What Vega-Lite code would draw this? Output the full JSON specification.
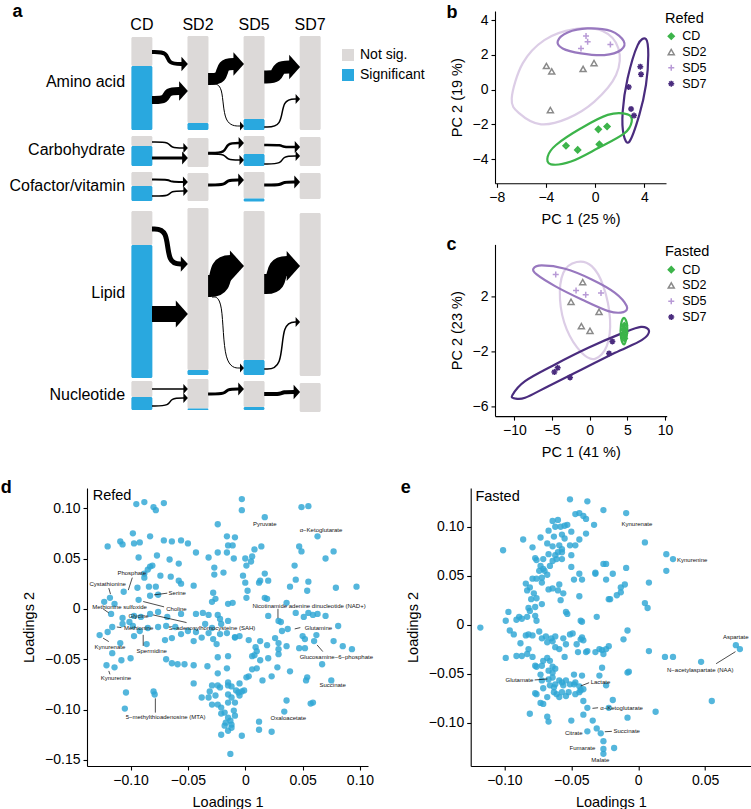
{
"$schema":"https://vega.github.io/schema/vega-lite/v6.json",
"padding":{"top":3,"left":0,"right":0,"bottom":0},
"background":"white",
"spacing":19,
"config":{
 "font":"Liberation Sans",
 "view":{"stroke":null},
 "axis":{"grid":false,"domainColor":"#000","tickColor":"#000","labelColor":"#000","titleColor":"#000","labelFontSize":14,"titleFontSize":14.5,"titleFontWeight":"normal","tickSize":4,"labelPadding":3,"titlePadding":8,"domainWidth":1.1,"tickWidth":1.1,"labelFlush":false,"labelOverlap":false},
 "legend":{"titleFontWeight":"normal","labelColor":"#000","titleColor":"#000"}
},
"resolve":{"scale":{"color":"independent","shape":"independent","size":"independent","strokeWidth":"independent"},"legend":{"color":"independent","shape":"independent","size":"independent","strokeWidth":"independent"}},
"datasets":{
 "abars":[
  {"c":"Amino acid","s":0,"y0":35,"y1":64,"st":"Not sig."},{"c":"Amino acid","s":0,"y0":64,"y1":128,"st":"Significant"},
  {"c":"Amino acid","s":1,"y0":34,"y1":121,"st":"Not sig."},{"c":"Amino acid","s":1,"y0":121,"y1":128,"st":"Significant"},
  {"c":"Amino acid","s":2,"y0":34,"y1":117,"st":"Not sig."},{"c":"Amino acid","s":2,"y0":117,"y1":128,"st":"Significant"},
  {"c":"Amino acid","s":3,"y0":34,"y1":128,"st":"Not sig."},
  {"c":"Carbohydrate","s":0,"y0":134,"y1":144,"st":"Not sig."},{"c":"Carbohydrate","s":0,"y0":144,"y1":164,"st":"Significant"},
  {"c":"Carbohydrate","s":1,"y0":136,"y1":165,"st":"Not sig."},
  {"c":"Carbohydrate","s":2,"y0":134,"y1":152,"st":"Not sig."},{"c":"Carbohydrate","s":2,"y0":152,"y1":164,"st":"Significant"},
  {"c":"Carbohydrate","s":3,"y0":135,"y1":164,"st":"Not sig."},
  {"c":"Cofactor/vitamin","s":0,"y0":170,"y1":184,"st":"Not sig."},{"c":"Cofactor/vitamin","s":0,"y0":184,"y1":199,"st":"Significant"},
  {"c":"Cofactor/vitamin","s":1,"y0":171,"y1":199,"st":"Not sig."},
  {"c":"Cofactor/vitamin","s":2,"y0":170,"y1":196.5,"st":"Not sig."},{"c":"Cofactor/vitamin","s":2,"y0":196.5,"y1":199.5,"st":"Significant"},
  {"c":"Cofactor/vitamin","s":3,"y0":171,"y1":197,"st":"Not sig."},
  {"c":"Lipid","s":0,"y0":209,"y1":243,"st":"Not sig."},{"c":"Lipid","s":0,"y0":243,"y1":376,"st":"Significant"},
  {"c":"Lipid","s":1,"y0":206,"y1":368,"st":"Not sig."},{"c":"Lipid","s":1,"y0":368,"y1":373,"st":"Significant"},
  {"c":"Lipid","s":2,"y0":209,"y1":358,"st":"Not sig."},{"c":"Lipid","s":2,"y0":358,"y1":373,"st":"Significant"},
  {"c":"Lipid","s":3,"y0":211,"y1":374,"st":"Not sig."},
  {"c":"Nucleotide","s":0,"y0":379,"y1":395,"st":"Not sig."},{"c":"Nucleotide","s":0,"y0":395,"y1":408,"st":"Significant"},
  {"c":"Nucleotide","s":1,"y0":377,"y1":406.5,"st":"Not sig."},{"c":"Nucleotide","s":1,"y0":406.5,"y1":408,"st":"Significant"},
  {"c":"Nucleotide","s":2,"y0":379,"y1":405,"st":"Not sig."},{"c":"Nucleotide","s":2,"y0":405,"y1":408,"st":"Significant"},
  {"c":"Nucleotide","s":3,"y0":381,"y1":410,"st":"Not sig."}
 ],
 "aflows":[
  {"f":1,"w":4,"x":[0.18,0.46,0.46,0.744],"y":[50,50,62,62],"k":[0,1,2,3],"hx":0.82,"hy":62},
  {"f":2,"w":8,"x":[0.18,0.44,0.44,0.705],"y":[98,98,89,89],"k":[0,1,2,3],"hx":0.82,"hy":89},
  {"f":3,"w":12,"x":[1.18,1.43,1.43,1.675],"y":[77,77,62,62],"k":[0,1,2,3],"hx":1.82,"hy":62},
  {"f":4,"w":1,"x":[1.25,1.45,1.45,1.786],"y":[82,82,124,124],"k":[0,1,2,3],"hx":1.82,"hy":124},
  {"f":5,"w":13,"x":[2.18,2.42,2.42,2.668],"y":[75,75,65,65],"k":[0,1,2,3],"hx":2.82,"hy":65},
  {"f":6,"w":1.5,"x":[2.18,2.5,2.5,2.778],"y":[125,125,97,97],"k":[0,1,2,3],"hx":2.82,"hy":97},
  {"f":7,"w":1.5,"x":[0.18,0.5,0.5,0.778],"y":[140,140,146,146],"k":[0,1,2,3],"hx":0.82,"hy":146},
  {"f":8,"w":3,"x":[0.18,0.5,0.5,0.756],"y":[156,156,156,156],"k":[0,1,2,3],"hx":0.82,"hy":156},
  {"f":9,"w":2.5,"x":[1.18,1.5,1.5,1.763],"y":[151,151,141,141],"k":[0,1,2,3],"hx":1.82,"hy":141},
  {"f":10,"w":1.5,"x":[1.18,1.5,1.5,1.778],"y":[152,152,158,158],"k":[0,1,2,3],"hx":1.82,"hy":158},
  {"f":11,"w":2.5,"x":[2.18,2.5,2.5,2.763],"y":[143,143,145,145],"k":[0,1,2,3],"hx":2.82,"hy":145},
  {"f":12,"w":1.5,"x":[2.18,2.5,2.5,2.778],"y":[162,162,154,154],"k":[0,1,2,3],"hx":2.82,"hy":154},
  {"f":13,"w":2,"x":[0.18,0.5,0.5,0.77],"y":[177.5,177.5,180,180],"k":[0,1,2,3],"hx":0.82,"hy":180},
  {"f":14,"w":1.5,"x":[0.18,0.5,0.5,0.778],"y":[194,194,189,189],"k":[0,1,2,3],"hx":0.82,"hy":189},
  {"f":15,"w":3,"x":[1.18,1.5,1.5,1.756],"y":[183,183,178,178],"k":[0,1,2,3],"hx":1.82,"hy":178},
  {"f":16,"w":3,"x":[2.18,2.5,2.5,2.756],"y":[183,183,180,180],"k":[0,1,2,3],"hx":2.82,"hy":180},
  {"f":17,"w":5,"x":[0.18,0.46,0.46,0.733],"y":[227,227,262,262],"k":[0,1,2,3],"hx":0.82,"hy":262},
  {"f":18,"w":16,"x":[0.18,0.42,0.42,0.648],"y":[312,312,312,312],"k":[0,1,2,3],"hx":0.82,"hy":312},
  {"f":19,"w":22,"x":[1.18,1.4,1.4,1.615],"y":[284,284,264,264],"k":[0,1,2,3],"hx":1.82,"hy":264},
  {"f":20,"w":1,"x":[1.25,1.45,1.45,1.786],"y":[295,295,366,366],"k":[0,1,2,3],"hx":1.82,"hy":366},
  {"f":21,"w":20,"x":[2.18,2.4,2.4,2.625],"y":[282,282,264,264],"k":[0,1,2,3],"hx":2.82,"hy":264},
  {"f":22,"w":1.5,"x":[2.18,2.5,2.5,2.778],"y":[367,367,320,320],"k":[0,1,2,3],"hx":2.82,"hy":320},
  {"f":23,"w":1.5,"x":[0.18,0.5,0.5,0.778],"y":[387,387,387,387],"k":[0,1,2,3],"hx":0.82,"hy":387},
  {"f":24,"w":1.5,"x":[0.18,0.5,0.5,0.778],"y":[404,404,396,396],"k":[0,1,2,3],"hx":0.82,"hy":396},
  {"f":25,"w":3,"x":[1.18,1.5,1.5,1.756],"y":[392,392,387,387],"k":[0,1,2,3],"hx":1.82,"hy":387},
  {"f":26,"w":4,"x":[2.18,2.5,2.5,2.744],"y":[392,392,390,390],"k":[0,1,2,3],"hx":2.82,"hy":390}
 ],
 "ahead":[{"t":"CD","x":0,"y":23},{"t":"SD2","x":1,"y":23},{"t":"SD5","x":2,"y":23},{"t":"SD7","x":3,"y":23}],
 "acat":[{"t":"Amino acid","x":-0.3,"y":80},{"t":"Carbohydrate","x":-0.3,"y":148},{"t":"Cofactor/vitamin","x":-0.3,"y":184},{"t":"Lipid","x":-0.3,"y":291},{"t":"Nucleotide","x":-0.3,"y":392.5}],
 "bpts":[
  {"g":"CD","x":-2.37,"y":-3.22},{"g":"CD","x":-1.42,"y":-3.46},{"g":"CD","x":0.26,"y":-2.28},{"g":"CD","x":0.97,"y":-2.12},{"g":"CD","x":0.34,"y":-3.14},
  {"g":"SD2","x":-3.96,"y":1.36},{"g":"SD2","x":-3.53,"y":1.05},{"g":"SD2","x":-0.98,"y":1.19},{"g":"SD2","x":-0.09,"y":1.53},{"g":"SD2","x":-3.64,"y":-1.17},
  {"g":"SD5","x":-0.74,"y":3.08},{"g":"SD5","x":-0.61,"y":2.76},{"g":"SD5","x":-1.15,"y":2.37},{"g":"SD5","x":1.24,"y":2.6},
  {"g":"SD7","x":3.67,"y":1.32},{"g":"SD7","x":3.73,"y":0.88},{"g":"SD7","x":2.73,"y":0.15},{"g":"SD7","x":2.92,"y":-1.11},{"g":"SD7","x":3.16,"y":-1.49}
 ],
 "bell":[
  {"eg":"SD2","k":0,"x":-6.78,"y":-0.5},{"eg":"SD2","k":1,"x":-5.89,"y":1.51},{"eg":"SD2","k":2,"x":-4.13,"y":2.85},{"eg":"SD2","k":3,"x":-1.69,"y":3.48},{"eg":"SD2","k":4,"x":0.61,"y":3.37},{"eg":"SD2","k":5,"x":1.89,"y":2.37},{"eg":"SD2","k":6,"x":1.7,"y":0.84},{"eg":"SD2","k":7,"x":-0.06,"y":-0.69},{"eg":"SD2","k":8,"x":-2.23,"y":-1.65},{"eg":"SD2","k":9,"x":-4.4,"y":-1.99},{"eg":"SD2","k":10,"x":-6.16,"y":-1.36},
  {"eg":"SD5","k":0,"x":-3.04,"y":2.79},{"eg":"SD5","k":1,"x":-2.23,"y":3.29},{"eg":"SD5","k":2,"x":-0.61,"y":3.52},{"eg":"SD5","k":3,"x":1.29,"y":3.37},{"eg":"SD5","k":4,"x":2.32,"y":2.79},{"eg":"SD5","k":5,"x":2.1,"y":2.28},{"eg":"SD5","k":6,"x":0.75,"y":1.99},{"eg":"SD5","k":7,"x":-1.15,"y":2.09},{"eg":"SD5","k":8,"x":-2.64,"y":2.37},
  {"eg":"SD7","k":0,"x":4.13,"y":2.91},{"eg":"SD7","k":1,"x":4.32,"y":1.99},{"eg":"SD7","k":2,"x":4.13,"y":0.27},{"eg":"SD7","k":3,"x":3.59,"y":-1.45},{"eg":"SD7","k":4,"x":2.78,"y":-2.99},{"eg":"SD7","k":5,"x":2.32,"y":-2.6},{"eg":"SD7","k":6,"x":2.24,"y":-1.26},{"eg":"SD7","k":7,"x":2.64,"y":0.65},{"eg":"SD7","k":8,"x":3.46,"y":2.56},
  {"eg":"CD","k":0,"x":-3.86,"y":-3.85},{"eg":"CD","k":1,"x":-3.18,"y":-3.18},{"eg":"CD","k":2,"x":-1.15,"y":-2.22},{"eg":"CD","k":3,"x":1.02,"y":-1.45},{"eg":"CD","k":4,"x":2.64,"y":-1.42},{"eg":"CD","k":5,"x":2.97,"y":-1.84},{"eg":"CD","k":6,"x":2.37,"y":-2.51},{"eg":"CD","k":7,"x":0.21,"y":-3.37},{"eg":"CD","k":8,"x":-1.96,"y":-4.13},{"eg":"CD","k":9,"x":-3.59,"y":-4.29}
 ],
 "cpts":[
  {"g":"CD","x":4.6,"y":-0.1},{"g":"CD","x":4.55,"y":-0.4},{"g":"CD","x":4.65,"y":-0.65},{"g":"CD","x":4.5,"y":-0.85},{"g":"CD","x":4.6,"y":-1.05},
  {"g":"SD2","x":-0.93,"y":3.07},{"g":"SD2","x":-2.48,"y":1.63},{"g":"SD2","x":1.24,"y":0.9},{"g":"SD2","x":-1.11,"y":-0.15},{"g":"SD2","x":0.04,"y":-0.49},
  {"g":"SD5","x":-4.51,"y":3.63},{"g":"SD5","x":-1.81,"y":2.46},{"g":"SD5","x":-0.53,"y":2.15},{"g":"SD5","x":1.5,"y":2.27},
  {"g":"SD7","x":-4.69,"y":-3.51},{"g":"SD7","x":-4.25,"y":-3.2},{"g":"SD7","x":-2.61,"y":-3.9},{"g":"SD7","x":2.57,"y":-2.15},{"g":"SD7","x":3.01,"y":-1.27}
 ],
 "cell":[
  {"eg":"SD7","k":0,"x":-10.27,"y":-5.2},{"eg":"SD7","k":1,"x":-8.58,"y":-4.17},{"eg":"SD7","k":2,"x":-4.6,"y":-2.95},{"eg":"SD7","k":3,"x":-0.18,"y":-1.73},{"eg":"SD7","k":4,"x":4.25,"y":-0.68},{"eg":"SD7","k":5,"x":6.81,"y":-0.2},{"eg":"SD7","k":6,"x":7.88,"y":-0.51},{"eg":"SD7","k":7,"x":6.9,"y":-1.17},{"eg":"SD7","k":8,"x":3.36,"y":-2.1},{"eg":"SD7","k":9,"x":-1.06,"y":-3.32},{"eg":"SD7","k":10,"x":-5.49,"y":-4.54},{"eg":"SD7","k":11,"x":-8.58,"y":-5.39},{"eg":"SD7","k":12,"x":-9.91,"y":-5.44},
  {"eg":"SD5","k":0,"x":-7.48,"y":4.05},{"eg":"SD5","k":1,"x":-6.37,"y":4.29},{"eg":"SD5","k":2,"x":-3.27,"y":4.05},{"eg":"SD5","k":3,"x":0.27,"y":3.27},{"eg":"SD5","k":4,"x":3.36,"y":2.29},{"eg":"SD5","k":5,"x":4.91,"y":1.32},{"eg":"SD5","k":6,"x":4.47,"y":0.88},{"eg":"SD5","k":7,"x":2.48,"y":0.95},{"eg":"SD5","k":8,"x":-1.06,"y":1.8},{"eg":"SD5","k":9,"x":-4.6,"y":2.78},{"eg":"SD5","k":10,"x":-7.04,"y":3.63},
  {"eg":"SD2","k":0,"x":-1.73,"y":4.54},{"eg":"SD2","k":1,"x":0.27,"y":4.24},{"eg":"SD2","k":2,"x":1.81,"y":2.78},{"eg":"SD2","k":3,"x":2.7,"y":0.34},{"eg":"SD2","k":4,"x":2.26,"y":-1.61},{"eg":"SD2","k":5,"x":0.71,"y":-2.54},{"eg":"SD2","k":6,"x":-1.06,"y":-2.1},{"eg":"SD2","k":7,"x":-3.05,"y":-0.39},{"eg":"SD2","k":8,"x":-3.94,"y":1.8},{"eg":"SD2","k":9,"x":-3.5,"y":3.76},
  {"eg":"CD","k":0,"x":4.56,"y":0.46},{"eg":"CD","k":1,"x":4.96,"y":-0.02},{"eg":"CD","k":2,"x":4.91,"y":-0.88},{"eg":"CD","k":3,"x":4.56,"y":-1.49},{"eg":"CD","k":4,"x":4.16,"y":-1.0},{"eg":"CD","k":5,"x":4.16,"y":-0.02}
 ],
 "dpts":[
  {"l1":-0.095,"l2":0.104},{"l1":-0.088,"l2":0.106},{"l1":-0.080,"l2":0.101},{"l1":-0.078,"l2":0.098},{"l1":-0.071,"l2":0.105},
  {"l1":-0.024,"l2":0.084},{"l1":-0.098,"l2":0.075},{"l1":-0.083,"l2":0.072},{"l1":-0.016,"l2":0.072},
  {"l1":-0.120,"l2":0.062},{"l1":-0.109,"l2":0.067},{"l1":-0.107,"l2":0.064},{"l1":-0.097,"l2":0.065},{"l1":-0.092,"l2":0.066},{"l1":-0.071,"l2":0.068},{"l1":-0.064,"l2":0.067},{"l1":-0.056,"l2":0.068},{"l1":-0.050,"l2":0.065},{"l1":-0.015,"l2":0.063},
  {"l1":-0.043,"l2":0.056},{"l1":-0.032,"l2":0.051},{"l1":-0.024,"l2":0.056},{"l1":-0.016,"l2":0.056},{"l1":-0.093,"l2":0.051},{"l1":-0.077,"l2":0.053},{"l1":-0.066,"l2":0.049},{"l1":-0.058,"l2":0.045},{"l1":-0.027,"l2":0.041},{"l1":-0.019,"l2":0.036},{"l1":-0.027,"l2":0.034},
  {"l1":-0.083,"l2":0.042},{"l1":-0.081,"l2":0.043},{"l1":-0.085,"l2":0.039},{"l1":-0.088,"l2":0.035},{"l1":-0.088,"l2":0.031},{"l1":-0.074,"l2":0.033},{"l1":-0.065,"l2":0.032},{"l1":-0.058,"l2":0.028},{"l1":-0.056,"l2":0.025},{"l1":-0.045,"l2":0.023},
  {"l1":-0.106,"l2":0.017},{"l1":-0.094,"l2":0.021},{"l1":-0.084,"l2":0.022},{"l1":-0.078,"l2":0.022},{"l1":-0.093,"l2":0.009},{"l1":-0.083,"l2":0.013},{"l1":-0.076,"l2":0.014},{"l1":-0.118,"l2":0.011},{"l1":-0.123,"l2":0.007},{"l1":-0.114,"l2":0.005},
  {"l1":-0.028,"l2":0.016},{"l1":-0.026,"l2":0.010},{"l1":-0.029,"l2":0.007},
  {"l1":-0.117,"l2":-0.005},{"l1":-0.107,"l2":-0.009},{"l1":-0.097,"l2":-0.007},{"l1":-0.091,"l2":-0.008},{"l1":-0.083,"l2":-0.005},{"l1":-0.076,"l2":-0.003},{"l1":-0.068,"l2":-0.008},{"l1":-0.056,"l2":-0.005},{"l1":-0.043,"l2":-0.005},{"l1":-0.037,"l2":-0.004},{"l1":-0.032,"l2":-0.006},{"l1":-0.024,"l2":-0.006},{"l1":-0.015,"l2":0.005},{"l1":-0.101,"l2":-0.013},
  {"l1":-0.127,"l2":-0.026},{"l1":-0.120,"l2":-0.023},{"l1":-0.116,"l2":-0.018},{"l1":-0.107,"l2":-0.015},{"l1":-0.098,"l2":-0.017},{"l1":-0.092,"l2":-0.022},{"l1":-0.097,"l2":-0.027},{"l1":-0.085,"l2":-0.019},{"l1":-0.076,"l2":-0.018},{"l1":-0.069,"l2":-0.017},{"l1":-0.061,"l2":-0.018},{"l1":-0.056,"l2":-0.025},{"l1":-0.050,"l2":-0.022},{"l1":-0.043,"l2":-0.023},{"l1":-0.045,"l2":-0.032},{"l1":-0.032,"l2":-0.024},{"l1":-0.028,"l2":-0.030},{"l1":-0.025,"l2":-0.035},{"l1":-0.070,"l2":-0.031},{"l1":-0.064,"l2":-0.029},{"l1":-0.086,"l2":-0.035},{"l1":-0.024,"l2":-0.048},
  {"l1":-0.116,"l2":-0.044},{"l1":-0.109,"l2":-0.034},{"l1":-0.108,"l2":-0.051},{"l1":-0.100,"l2":-0.049},{"l1":-0.069,"l2":-0.050},{"l1":-0.064,"l2":-0.054},{"l1":-0.059,"l2":-0.055},{"l1":-0.053,"l2":-0.055},{"l1":-0.045,"l2":-0.056},{"l1":-0.033,"l2":-0.057},{"l1":-0.024,"l2":-0.064},{"l1":-0.015,"l2":-0.047},{"l1":-0.016,"l2":-0.059},
  {"l1":-0.121,"l2":-0.056},{"l1":-0.114,"l2":-0.058},{"l1":-0.045,"l2":-0.074},{"l1":-0.029,"l2":-0.076},{"l1":-0.024,"l2":-0.076},{"l1":-0.015,"l2":-0.076},{"l1":-0.104,"l2":-0.083},{"l1":-0.080,"l2":-0.082},{"l1":-0.079,"l2":-0.085},{"l1":-0.038,"l2":-0.088},{"l1":-0.032,"l2":-0.088},{"l1":-0.026,"l2":-0.086},{"l1":-0.015,"l2":-0.085},
  {"l1":-0.105,"l2":-0.099},{"l1":-0.021,"l2":-0.104},{"l1":-0.013,"l2":-0.111},{"l1":-0.018,"l2":-0.116},{"l1":-0.015,"l2":-0.121},{"l1":-0.021,"l2":-0.125},{"l1":-0.013,"l2":-0.144},
  {"l1":-0.003,"l2":0.109},{"l1":-0.003,"l2":0.098},{"l1":0.049,"l2":0.101},{"l1":0.055,"l2":0.102},{"l1":0.017,"l2":0.091},{"l1":0.063,"l2":0.072},{"l1":-0.009,"l2":0.071},{"l1":-0.011,"l2":0.063},{"l1":0.014,"l2":0.062},{"l1":0.008,"l2":0.059},{"l1":0.047,"l2":0.062},{"l1":0.049,"l2":0.057},{"l1":0.077,"l2":0.057},{"l1":0.070,"l2":0.050},{"l1":-0.010,"l2":0.050},{"l1":0.000,"l2":0.050},{"l1":0.006,"l2":0.052},{"l1":0.005,"l2":0.047},{"l1":0.001,"l2":0.043},{"l1":0.043,"l2":0.043},{"l1":-0.002,"l2":0.033},{"l1":0.000,"l2":0.026},{"l1":0.017,"l2":0.035},{"l1":0.013,"l2":0.028},{"l1":0.012,"l2":0.026},{"l1":0.020,"l2":0.028},{"l1":0.044,"l2":0.029},{"l1":0.055,"l2":0.027},{"l1":0.039,"l2":0.022},{"l1":0.054,"l2":0.018},{"l1":0.079,"l2":0.021},{"l1":0.097,"l2":0.022},{"l1":0.002,"l2":0.018},{"l1":0.001,"l2":0.011},{"l1":0.017,"l2":0.011},{"l1":0.019,"l2":0.010},{"l1":-0.011,"l2":0.006},{"l1":0.036,"l2":0.006},
  {"l1":0.029,"l2":-0.012},{"l1":0.031,"l2":-0.013},{"l1":0.020,"l2":-0.007},{"l1":0.044,"l2":-0.004},{"l1":0.051,"l2":-0.008},{"l1":0.059,"l2":-0.006},{"l1":0.070,"l2":-0.007},{"l1":0.081,"l2":-0.017},{"l1":0.037,"l2":-0.020},{"l1":0.032,"l2":-0.022},{"l1":-0.016,"l2":-0.024},{"l1":-0.009,"l2":-0.028},{"l1":-0.005,"l2":-0.027},{"l1":0.003,"l2":-0.031},{"l1":0.013,"l2":-0.032},{"l1":0.019,"l2":-0.036},{"l1":0.026,"l2":-0.029},{"l1":0.029,"l2":-0.034},{"l1":0.029,"l2":-0.040},{"l1":0.036,"l2":-0.037},{"l1":0.050,"l2":-0.027},{"l1":0.052,"l2":-0.030},{"l1":0.060,"l2":-0.032},{"l1":0.062,"l2":-0.026},{"l1":0.077,"l2":-0.032},{"l1":0.085,"l2":-0.037},{"l1":0.093,"l2":-0.040},{"l1":0.047,"l2":-0.039},{"l1":0.052,"l2":-0.039},{"l1":0.009,"l2":-0.038},{"l1":0.010,"l2":-0.042},{"l1":0.008,"l2":-0.046},{"l1":0.006,"l2":-0.047},{"l1":0.013,"l2":-0.051},{"l1":0.020,"l2":-0.049},{"l1":0.029,"l2":-0.045},{"l1":0.028,"l2":-0.058},{"l1":0.023,"l2":-0.067},{"l1":0.015,"l2":-0.071},{"l1":0.006,"l2":-0.060},{"l1":0.010,"l2":-0.059},{"l1":0.003,"l2":-0.067},{"l1":-0.005,"l2":-0.074},{"l1":-0.001,"l2":-0.081},{"l1":-0.008,"l2":-0.081},{"l1":-0.005,"l2":-0.086},{"l1":0.039,"l2":-0.062},{"l1":0.067,"l2":-0.055},{"l1":0.054,"l2":-0.068},{"l1":0.053,"l2":-0.071},{"l1":0.075,"l2":-0.071},{"l1":0.036,"l2":-0.091},{"l1":0.034,"l2":-0.102},{"l1":0.057,"l2":-0.094},{"l1":0.059,"l2":-0.093},{"l1":0.012,"l2":-0.112},{"l1":0.012,"l2":-0.120},{"l1":0.023,"l2":-0.122},{"l1":-0.003,"l2":-0.126},
  {"l1":-0.024,"l2":-0.095},{"l1":-0.021,"l2":-0.098},{"l1":-0.018,"l2":-0.103},{"l1":-0.015,"l2":-0.093},{"l1":-0.012,"l2":-0.088},{"l1":-0.009,"l2":-0.093},{"l1":-0.010,"l2":-0.101},{"l1":-0.009,"l2":-0.106},{"l1":-0.015,"l2":-0.108},{"l1":-0.017,"l2":-0.113},{"l1":-0.012,"l2":-0.115},{"l1":-0.022,"l2":-0.078},{"l1":-0.031,"l2":-0.082},{"l1":-0.029,"l2":-0.095},{"l1":-0.006,"l2":-0.083},{"l1":-0.003,"l2":-0.082},{"l1":-0.012,"l2":-0.077},{"l1":-0.015,"l2":-0.073},{"l1":0.001,"l2":-0.068},{"l1":-0.012,"l2":-0.118},
  {"l1":0.055,"l2":-0.004},{"l1":0.063,"l2":-0.005},{"l1":-0.035,"l2":-0.015},{"l1":-0.038,"l2":-0.0285},{"l1":-0.029,"l2":-0.019},{"l1":-0.022,"l2":-0.025},{"l1":-0.021,"l2":-0.015},{"l1":-0.015,"l2":-0.012},{"l1":-0.022,"l2":-0.010},{"l1":-0.009,"l2":-0.0285}
 ],
 "darr":[
  {"x1":-0.0985,"y1":0.031,"x2":-0.102,"y2":0.0186},{"x1":-0.119,"y1":0.0206,"x2":-0.1175,"y2":0.0146},{"x1":-0.068,"y1":0.0156,"x2":-0.0795,"y2":0.0139},{"x1":-0.0708,"y1":0.002,"x2":-0.089,"y2":0.0073},{"x1":-0.124,"y1":0.0,"x2":-0.119,"y2":-0.004},{"x1":-0.0512,"y1":-0.0136,"x2":-0.0804,"y2":-0.006},{"x1":-0.108,"y1":-0.0186,"x2":-0.112,"y2":-0.018},{"x1":-0.089,"y1":-0.0368,"x2":-0.089,"y2":-0.0258},{"x1":-0.119,"y1":-0.0325,"x2":-0.124,"y2":-0.029},{"x1":-0.118,"y1":-0.065,"x2":-0.119,"y2":-0.0616},{"x1":-0.0784,"y1":-0.103,"x2":-0.0784,"y2":-0.0888},{"x1":0.0285,"y1":0.0,"x2":0.0285,"y2":-0.0093},{"x1":0.048,"y1":-0.0186,"x2":0.0431,"y2":-0.0199},{"x1":0.0676,"y1":-0.0424,"x2":0.0626,"y2":-0.0358}
 ],
 "dlab":[
  {"t":"Pyruvate","x":0.017,"y":0.084},{"t":"α−Ketoglutarate","x":0.066,"y":0.0785},{"t":"Phosphate","x":-0.099,"y":0.036},{"t":"Cystathionine","x":-0.12,"y":0.025},{"t":"Serine","x":-0.0593,"y":0.0156},{"t":"Choline","x":-0.06,"y":0.0},{"t":"Methionine sulfoxide","x":-0.1096,"y":0.002},{"t":"Glycine","x":-0.093,"y":-0.007},{"t":"S−adenosylhomocysteine (SAH)","x":-0.029,"y":-0.0186},{"t":"Methionine","x":-0.093,"y":-0.0192},{"t":"Kynurenate","x":-0.118,"y":-0.0375},{"t":"Spermidine","x":-0.0816,"y":-0.0417},{"t":"Kynurenine","x":-0.1128,"y":-0.0689},{"t":"5−methylthioadenosine (MTA)","x":-0.0695,"y":-0.1074},{"t":"Nicotinamide adenine dinucleotide (NAD+)","x":0.0556,"y":0.003},{"t":"Glutamine","x":0.0638,"y":-0.0186},{"t":"Glucosamine−6−phosphate","x":0.0794,"y":-0.0477},{"t":"Succinate","x":0.0762,"y":-0.0758},{"t":"Oxaloacetate","x":0.0375,"y":-0.108}
 ],
 "epts":[
  {"l1":-0.051,"l2":0.128},{"l1":-0.038,"l2":0.126},{"l1":-0.026,"l2":0.117},{"l1":-0.047,"l2":0.113},{"l1":-0.044,"l2":0.114},{"l1":-0.041,"l2":0.111},{"l1":-0.039,"l2":0.108},{"l1":-0.033,"l2":0.102},{"l1":-0.064,"l2":0.106},{"l1":-0.060,"l2":0.107},{"l1":-0.062,"l2":0.100},{"l1":-0.058,"l2":0.100},{"l1":-0.055,"l2":0.101},{"l1":-0.053,"l2":0.102},{"l1":-0.050,"l2":0.095},{"l1":-0.057,"l2":0.092},{"l1":-0.055,"l2":0.088},{"l1":-0.067,"l2":0.096},{"l1":-0.073,"l2":0.089},{"l1":-0.063,"l2":0.090},{"l1":-0.068,"l2":0.083},{"l1":-0.064,"l2":0.080},{"l1":-0.059,"l2":0.081},{"l1":-0.057,"l2":0.077},{"l1":-0.051,"l2":0.081},{"l1":-0.047,"l2":0.081},{"l1":-0.039,"l2":0.093},{"l1":-0.044,"l2":0.087},{"l1":-0.086,"l2":0.087},{"l1":-0.101,"l2":0.076},{"l1":-0.079,"l2":0.079},{"l1":-0.060,"l2":0.074},{"l1":-0.057,"l2":0.074},{"l1":-0.062,"l2":0.071},{"l1":-0.077,"l2":0.068},{"l1":-0.076,"l2":0.066},{"l1":-0.071,"l2":0.067},{"l1":-0.067,"l2":0.072},{"l1":-0.073,"l2":0.060},{"l1":-0.071,"l2":0.057},{"l1":-0.074,"l2":0.055},{"l1":-0.070,"l2":0.055},{"l1":-0.066,"l2":0.060},{"l1":-0.064,"l2":0.065},{"l1":-0.061,"l2":0.067},{"l1":-0.057,"l2":0.067},{"l1":-0.050,"l2":0.071},{"l1":-0.050,"l2":0.059},{"l1":-0.044,"l2":0.052},{"l1":-0.048,"l2":0.046},{"l1":-0.042,"l2":0.046},{"l1":-0.032,"l2":0.053},{"l1":-0.079,"l2":0.047},{"l1":-0.076,"l2":0.047},{"l1":-0.072,"l2":0.048},{"l1":-0.068,"l2":0.051},{"l1":-0.072,"l2":0.043},{"l1":-0.084,"l2":0.042},{"l1":-0.081,"l2":0.038},{"l1":-0.083,"l2":0.035},{"l1":-0.078,"l2":0.032},{"l1":-0.080,"l2":0.026},{"l1":-0.076,"l2":0.027},{"l1":-0.082,"l2":0.017},{"l1":-0.081,"l2":0.014},{"l1":-0.077,"l2":0.018},{"l1":-0.072,"l2":0.021},{"l1":-0.067,"l2":0.036},{"l1":-0.064,"l2":0.037},{"l1":-0.060,"l2":0.035},{"l1":-0.056,"l2":0.032},{"l1":-0.059,"l2":0.041},{"l1":-0.058,"l2":0.025},{"l1":-0.054,"l2":0.013},{"l1":-0.053,"l2":0.011},{"l1":-0.044,"l2":0.029},{"l1":-0.043,"l2":0.004},{"l1":-0.042,"l2":0.003},{"l1":-0.031,"l2":0.008},{"l1":-0.022,"l2":0.026},{"l1":-0.097,"l2":0.013},{"l1":-0.089,"l2":0.008},{"l1":-0.091,"l2":0.005},{"l1":-0.087,"l2":0.006},{"l1":-0.083,"l2":0.008},{"l1":-0.077,"l2":0.009},{"l1":-0.076,"l2":0.004},{"l1":-0.099,"l2":0.004},{"l1":-0.096,"l2":-0.006},{"l1":-0.093,"l2":-0.010},{"l1":-0.088,"l2":-0.019},{"l1":-0.084,"l2":-0.011},{"l1":-0.082,"l2":-0.010},{"l1":-0.079,"l2":-0.011},{"l1":-0.074,"l2":-0.007},{"l1":-0.072,"l2":-0.014},{"l1":-0.069,"l2":-0.012},{"l1":-0.065,"l2":-0.014},{"l1":-0.062,"l2":-0.012},{"l1":-0.064,"l2":-0.017},{"l1":-0.068,"l2":-0.018},{"l1":-0.062,"l2":-0.023},{"l1":-0.056,"l2":-0.014},{"l1":-0.054,"l2":-0.020},{"l1":-0.059,"l2":-0.025},{"l1":-0.055,"l2":-0.033},{"l1":-0.051,"l2":-0.010},{"l1":-0.049,"l2":-0.009},{"l1":-0.046,"l2":-0.020},{"l1":-0.043,"l2":-0.015},{"l1":-0.042,"l2":-0.013},{"l1":-0.041,"l2":-0.016},{"l1":-0.039,"l2":-0.028},{"l1":-0.045,"l2":-0.028},{"l1":-0.032,"l2":-0.028},{"l1":-0.027,"l2":-0.026},{"l1":-0.026,"l2":-0.030},{"l1":-0.022,"l2":-0.022},{"l1":-0.027,"l2":-0.044},{"l1":-0.099,"l2":-0.034},{"l1":-0.091,"l2":-0.032},{"l1":-0.087,"l2":-0.032},{"l1":-0.083,"l2":-0.030},{"l1":-0.082,"l2":-0.025},{"l1":-0.079,"l2":-0.033},{"l1":-0.077,"l2":-0.042},{"l1":-0.076,"l2":-0.043},{"l1":-0.072,"l2":-0.042},{"l1":-0.071,"l2":-0.037},{"l1":-0.068,"l2":-0.034},{"l1":-0.066,"l2":-0.037},{"l1":-0.064,"l2":-0.043},{"l1":-0.062,"l2":-0.045},{"l1":-0.067,"l2":-0.047},{"l1":-0.064,"l2":-0.049},{"l1":-0.073,"l2":-0.051},{"l1":-0.072,"l2":-0.057},{"l1":-0.067,"l2":-0.056},{"l1":-0.064,"l2":-0.054},{"l1":-0.062,"l2":-0.061},{"l1":-0.066,"l2":-0.062},{"l1":-0.059,"l2":-0.057},{"l1":-0.057,"l2":-0.059},{"l1":-0.054,"l2":-0.057},{"l1":-0.056,"l2":-0.062},{"l1":-0.051,"l2":-0.061},{"l1":-0.048,"l2":-0.061},{"l1":-0.047,"l2":-0.059},{"l1":-0.044,"l2":-0.063},{"l1":-0.043,"l2":-0.067},{"l1":-0.041,"l2":-0.066},{"l1":-0.044,"l2":-0.069},{"l1":-0.047,"l2":-0.071},{"l1":-0.052,"l2":-0.069},{"l1":-0.057,"l2":-0.069},{"l1":-0.061,"l2":-0.071},{"l1":-0.063,"l2":-0.069},{"l1":-0.054,"l2":-0.073},{"l1":-0.059,"l2":-0.074},{"l1":-0.063,"l2":-0.064},{"l1":-0.077,"l2":-0.070},{"l1":-0.076,"l2":-0.071},{"l1":-0.073,"l2":-0.080},{"l1":-0.071,"l2":-0.081},{"l1":-0.071,"l2":-0.065},{"l1":-0.068,"l2":-0.074},{"l1":-0.048,"l2":-0.051},{"l1":-0.042,"l2":-0.052},{"l1":-0.041,"l2":-0.078},{"l1":-0.038,"l2":-0.085},{"l1":-0.041,"l2":-0.092},{"l1":-0.034,"l2":-0.098},{"l1":-0.031,"l2":-0.106},{"l1":-0.028,"l2":-0.111},{"l1":-0.026,"l2":-0.119},{"l1":-0.026,"l2":-0.127},{"l1":-0.026,"l2":-0.132},{"l1":-0.050,"l2":-0.098},{"l1":-0.081,"l2":-0.091},{"l1":-0.068,"l2":-0.094},{"l1":-0.067,"l2":-0.099},{"l1":-0.038,"l2":-0.109},{"l1":-0.022,"l2":-0.085},{"l1":-0.118,"l2":-0.003},
  {"l1":-0.009,"l2":0.114},{"l1":0.005,"l2":0.084},{"l1":0.021,"l2":0.072},{"l1":0.026,"l2":0.067},{"l1":0.021,"l2":0.055},{"l1":-0.024,"l2":0.062},{"l1":-0.024,"l2":0.046},{"l1":-0.019,"l2":0.052},{"l1":-0.009,"l2":0.058},{"l1":0.008,"l2":0.043},{"l1":-0.021,"l2":0.026},{"l1":-0.016,"l2":0.030},{"l1":-0.013,"l2":0.033},{"l1":-0.013,"l2":0.038},{"l1":-0.010,"l2":0.041},{"l1":0.005,"l2":0.022},{"l1":0.007,"l2":0.017},{"l1":-0.008,"l2":-0.006},{"l1":-0.011,"l2":-0.015},{"l1":-0.024,"l2":-0.025},{"l1":0.008,"l2":-0.027},{"l1":0.020,"l2":-0.033},{"l1":0.026,"l2":-0.033},{"l1":0.047,"l2":-0.038},{"l1":0.073,"l2":-0.021},{"l1":0.076,"l2":-0.025},{"l1":0.055,"l2":-0.078},{"l1":-0.008,"l2":-0.049},{"l1":-0.007,"l2":-0.048},{"l1":-0.024,"l2":-0.062},{"l1":-0.019,"l2":-0.077},{"l1":0.013,"l2":-0.089},{"l1":-0.008,"l2":-0.095},{"l1":-0.018,"l2":-0.126},{"l1":-0.032,"l2":0.052},{"l1":-0.026,"l2":0.062},{"l1":-0.029,"l2":-0.052},{"l1":-0.029,"l2":-0.025},{"l1":-0.038,"l2":-0.027}
 ],
 "earr":[
  {"x1":-0.0774,"y1":-0.0565,"x2":-0.0679,"y2":-0.0555},{"x1":-0.0367,"y1":-0.0593,"x2":-0.043,"y2":-0.0627},{"x1":-0.03,"y1":-0.0849,"x2":-0.0342,"y2":-0.0855},{"x1":-0.0197,"y1":-0.109,"x2":-0.025,"y2":-0.1094},{"x1":0.0582,"y1":-0.0399,"x2":0.0727,"y2":-0.0276}
 ],
 "elab":[
  {"t":"Kynurenate","x":-0.001,"y":0.103},{"t":"Kynurenine","x":0.0403,"y":0.0662},{"t":"Aspartate","x":0.0729,"y":-0.0123},{"t":"N−acetylaspartate (NAA)","x":0.0464,"y":-0.0467},{"t":"Glutamate","x":-0.0888,"y":-0.0565},{"t":"Lactate","x":-0.0282,"y":-0.0586},{"t":"α−Ketoglutarate","x":-0.0124,"y":-0.0849},{"t":"Citrate","x":-0.0482,"y":-0.111},{"t":"Succinate","x":-0.0086,"y":-0.109},{"t":"Fumarate","x":-0.0417,"y":-0.126},{"t":"Malate","x":-0.0283,"y":-0.1383}
 ]
},
"vconcat":[
 {
  "hconcat":[
   {
    "width":244,"height":410,
    "layer":[
     {"data":{"name":"abars"},"mark":{"type":"bar","width":21,"cornerRadius":1.5},
      "encoding":{
       "x":{"field":"s","type":"quantitative","scale":{"domain":[-0.889,3.282],"nice":false,"zero":false},"axis":null},
       "y":{"field":"y0","type":"quantitative","scale":{"domain":[9,419],"reverse":true,"nice":false,"zero":false},"axis":null},
       "y2":{"field":"y1"},
       "color":{"field":"st","type":"nominal","scale":{"domain":["Not sig.","Significant"],"range":["#dcd9d8","#29a8df"]},"legend":{"orient":"none","legendX":254,"legendY":37,"title":null,"symbolType":"square","symbolSize":144,"labelFontSize":14,"rowPadding":6,"labelOffset":5,"symbolStrokeWidth":0,"padding":0}}}},
     {"data":{"name":"aflows"},"transform":[{"flatten":["x","y","k"]}],"mark":{"type":"line","interpolate":"basis","color":"#000","strokeCap":"butt"},
      "encoding":{
       "x":{"field":"x","type":"quantitative"},
       "y":{"field":"y","type":"quantitative"},
       "detail":{"field":"f","type":"nominal"},
       "order":{"field":"k","type":"quantitative"},
       "strokeWidth":{"field":"w","type":"quantitative","scale":{"domain":[0,25],"range":[0,25]},"legend":null}}},
     {"data":{"name":"aflows"},"mark":{"type":"point","shape":"M0,0L-0.9,-1L-0.9,1Z","filled":true,"color":"#000","opacity":1,"strokeWidth":0},
      "encoding":{
       "x":{"field":"hx","type":"quantitative"},
       "y":{"field":"hy","type":"quantitative"},
       "size":{"field":"w","type":"quantitative","scale":{"domain":[0,25],"range":[35,1100]},"legend":null}}},
     {"data":{"name":"ahead"},"mark":{"type":"text","fontSize":16,"align":"center","baseline":"middle","color":"#000"},
      "encoding":{"x":{"field":"x","type":"quantitative"},"y":{"field":"y","type":"quantitative"},"text":{"field":"t"}}},
     {"data":{"name":"acat"},"mark":{"type":"text","fontSize":16,"align":"right","baseline":"middle","color":"#000"},
      "encoding":{"x":{"field":"x","type":"quantitative"},"y":{"field":"y","type":"quantitative"},"text":{"field":"t"}}},
     {"data":{"values":[{"t":"a","x":-2.308,"y":10}]},"mark":{"type":"text","fontSize":18,"fontWeight":"bold","align":"left","baseline":"middle","color":"#000"},
      "encoding":{"x":{"field":"x","type":"quantitative"},"y":{"field":"y","type":"quantitative"},"text":{"field":"t"}}}
    ]
   },
   {
    "vconcat":[
     {
      "width":171,"height":172.3,
      "layer":[
       {"data":{"name":"bell"},"transform":[{"filter":"datum.eg === 'SD2'"}],"mark":{"type":"line","interpolate":"cardinal-closed","strokeWidth":2.2,"color":"#dccde6"},
        "encoding":{
         "x":{"field":"x","type":"quantitative","scale":{"domain":[-8.14,5.76],"nice":false,"zero":false},"axis":{"title":"PC 1 (25 %)","values":[-8,-6,-4,-2,0,2,4]}},
         "y":{"field":"y","type":"quantitative","scale":{"domain":[-5.38,4.52],"nice":false,"zero":false},"axis":{"title":"PC 2 (19 %)","values":[-4,-2,0,2,4]}},
         "order":{"field":"k","type":"quantitative"}}},
       {"data":{"name":"bell"},"transform":[{"filter":"datum.eg === 'SD5'"}],"mark":{"type":"line","interpolate":"cardinal-closed","strokeWidth":2.2,"color":"#9878bf"},
        "encoding":{"x":{"field":"x","type":"quantitative"},"y":{"field":"y","type":"quantitative"},"order":{"field":"k","type":"quantitative"}}},
       {"data":{"name":"bell"},"transform":[{"filter":"datum.eg === 'SD7'"}],"mark":{"type":"line","interpolate":"cardinal-closed","strokeWidth":2.2,"color":"#4a2c7e"},
        "encoding":{"x":{"field":"x","type":"quantitative"},"y":{"field":"y","type":"quantitative"},"order":{"field":"k","type":"quantitative"}}},
       {"data":{"name":"bell"},"transform":[{"filter":"datum.eg === 'CD'"}],"mark":{"type":"line","interpolate":"cardinal-closed","strokeWidth":2.2,"color":"#3cb44a"},
        "encoding":{"x":{"field":"x","type":"quantitative"},"y":{"field":"y","type":"quantitative"},"order":{"field":"k","type":"quantitative"}}},
       {"data":{"name":"bpts"},"mark":{"type":"point","filled":false,"size":36,"strokeWidth":1.5,"opacity":1},
        "encoding":{
         "x":{"field":"x","type":"quantitative"},
         "y":{"field":"y","type":"quantitative"},
         "shape":{"field":"g","type":"nominal","title":"Refed","scale":{"domain":["CD","SD2","SD5","SD7"],"range":["M0,-1L1,0L0,1L-1,0Z M-1,0L1,0 M0,-1L0,1","triangle-up","M-1,0L1,0M0,-1L0,1","M-1,0L1,0M0,-1L0,1M-0.7,-0.7L0.7,0.7M-0.7,0.7L0.7,-0.7"]},"legend":{"orient":"none","legendX":170,"legendY":1,"padding":0,"symbolSize":36,"symbolStrokeWidth":1.5,"labelFontSize":12.5,"titleFontSize":14.5,"rowPadding":2.8,"titlePadding":3.5,"labelOffset":4.7}},
         "color":{"field":"g","type":"nominal","title":"Refed","scale":{"domain":["CD","SD2","SD5","SD7"],"range":["#3cb44a","#8a8a8a","#b89ad6","#4a2c7e"]},"legend":{"orient":"none","legendX":170,"legendY":1,"padding":0,"symbolSize":36,"symbolStrokeWidth":1.5,"labelFontSize":12.5,"titleFontSize":14.5,"rowPadding":2.8,"titlePadding":3.5,"labelOffset":4.7}}}},
       {"data":{"values":[{"t":"b","x":-12.09,"y":4.146}]},"mark":{"type":"text","fontSize":18,"fontWeight":"bold","align":"left","baseline":"alphabetic","color":"#000"},
        "encoding":{"x":{"field":"x","type":"quantitative"},"y":{"field":"y","type":"quantitative"},"text":{"field":"t"}}}
      ]
     },
     {
      "width":171.7,"height":171.7,
      "layer":[
       {"data":{"name":"cell"},"transform":[{"filter":"datum.eg === 'SD2'"}],"mark":{"type":"line","interpolate":"cardinal-closed","strokeWidth":2.2,"color":"#dccde6"},
        "encoding":{
         "x":{"field":"x","type":"quantitative","scale":{"domain":[-12.57,10.22],"nice":false,"zero":false},"axis":{"title":"PC 1 (41 %)","values":[-10,-5,0,5,10]}},
         "y":{"field":"y","type":"quantitative","scale":{"domain":[-6.73,5.83],"nice":false,"zero":false},"axis":{"title":"PC 2 (23 %)","values":[-6,-4,-2,0,2,4]}},
         "order":{"field":"k","type":"quantitative"}}},
       {"data":{"name":"cell"},"transform":[{"filter":"datum.eg === 'SD5'"}],"mark":{"type":"line","interpolate":"cardinal-closed","strokeWidth":2.2,"color":"#9878bf"},
        "encoding":{"x":{"field":"x","type":"quantitative"},"y":{"field":"y","type":"quantitative"},"order":{"field":"k","type":"quantitative"}}},
       {"data":{"name":"cell"},"transform":[{"filter":"datum.eg === 'SD7'"}],"mark":{"type":"line","interpolate":"cardinal-closed","strokeWidth":2.2,"color":"#4a2c7e"},
        "encoding":{"x":{"field":"x","type":"quantitative"},"y":{"field":"y","type":"quantitative"},"order":{"field":"k","type":"quantitative"}}},
       {"data":{"name":"cell"},"transform":[{"filter":"datum.eg === 'CD'"}],"mark":{"type":"line","interpolate":"cardinal-closed","strokeWidth":2.2,"color":"#3cb44a"},
        "encoding":{"x":{"field":"x","type":"quantitative"},"y":{"field":"y","type":"quantitative"},"order":{"field":"k","type":"quantitative"}}},
       {"data":{"name":"cpts"},"mark":{"type":"point","filled":false,"size":36,"strokeWidth":1.5,"opacity":1},
        "encoding":{
         "x":{"field":"x","type":"quantitative"},
         "y":{"field":"y","type":"quantitative"},
         "shape":{"field":"g","type":"nominal","title":"Fasted","scale":{"domain":["CD","SD2","SD5","SD7"],"range":["M0,-1L1,0L0,1L-1,0Z M-1,0L1,0 M0,-1L0,1","triangle-up","M-1,0L1,0M0,-1L0,1","M-1,0L1,0M0,-1L0,1M-0.7,-0.7L0.7,0.7M-0.7,0.7L0.7,-0.7"]},"legend":{"orient":"none","legendX":170,"legendY":1,"padding":0,"symbolSize":36,"symbolStrokeWidth":1.5,"labelFontSize":12.5,"titleFontSize":14.5,"rowPadding":2.8,"titlePadding":3.5,"labelOffset":4.7}},
         "color":{"field":"g","type":"nominal","title":"Fasted","scale":{"domain":["CD","SD2","SD5","SD7"],"range":["#3cb44a","#8a8a8a","#b89ad6","#4a2c7e"]},"legend":{"orient":"none","legendX":170,"legendY":1,"padding":0,"symbolSize":36,"symbolStrokeWidth":1.5,"labelFontSize":12.5,"titleFontSize":14.5,"rowPadding":2.8,"titlePadding":3.5,"labelOffset":4.7}}}},
       {"data":{"values":[{"t":"c","x":-19.01,"y":5.44}]},"mark":{"type":"text","fontSize":18,"fontWeight":"bold","align":"left","baseline":"alphabetic","color":"#000"},
        "encoding":{"x":{"field":"x","type":"quantitative"},"y":{"field":"y","type":"quantitative"},"text":{"field":"t"}}}
      ]
     }
    ],
    "spacing":60.4,
    "bounds":"flush",
    "resolve":{"scale":{"color":"independent","shape":"independent"},"legend":{"color":"independent","shape":"independent"}}
   }
  ],
  "spacing":164,
  "bounds":"flush",
  "resolve":{"scale":{"color":"independent","shape":"independent","size":"independent","strokeWidth":"independent"},"legend":{"color":"independent","shape":"independent","size":"independent","strokeWidth":"independent"}}
 },
 {
  "hconcat":[
   {
    "width":281,"height":278,
    "layer":[
     {"data":{"name":"dpts"},"mark":{"type":"circle","size":40,"color":"#2ea6d4","opacity":0.82},
      "encoding":{
       "x":{"field":"l1","type":"quantitative","scale":{"domain":[-0.138,0.107],"nice":false,"zero":false},"axis":{"title":"Loadings 1","values":[-0.1,-0.05,0,0.05,0.1],"labelExpr":"datum.value === 0 ? '0' : format(datum.value, '.2f')"}},
       "y":{"field":"l2","type":"quantitative","scale":{"domain":[-0.156,0.12],"nice":false,"zero":false},"axis":{"title":"Loadings 2","values":[-0.15,-0.1,-0.05,0,0.05,0.1],"labelExpr":"datum.value === 0 ? '0' : format(datum.value, '.2f')"}}}},
     {"data":{"name":"darr"},"mark":{"type":"rule","color":"#000","strokeWidth":0.7},
      "encoding":{"x":{"field":"x1","type":"quantitative"},"y":{"field":"y1","type":"quantitative"},"x2":{"field":"x2"},"y2":{"field":"y2"}}},
     {"data":{"name":"dlab"},"mark":{"type":"text","fontSize":6,"color":"#111","align":"center","baseline":"middle"},
      "encoding":{"x":{"field":"x","type":"quantitative"},"y":{"field":"y","type":"quantitative"},"text":{"field":"t"}}},
     {"data":{"values":[{"t":"Refed","x":-0.133,"y":0.1116}]},"mark":{"type":"text","fontSize":14.5,"align":"left","baseline":"middle","color":"#000"},
      "encoding":{"x":{"field":"x","type":"quantitative"},"y":{"field":"y","type":"quantitative"},"text":{"field":"t"}}},
     {"data":{"values":[{"t":"d","x":-0.2133,"y":0.115}]},"mark":{"type":"text","fontSize":18,"fontWeight":"bold","align":"left","baseline":"alphabetic","color":"#000"},
      "encoding":{"x":{"field":"x","type":"quantitative"},"y":{"field":"y","type":"quantitative"},"text":{"field":"t"}}}
    ]
   },
   {
    "width":280.3,"height":278,
    "layer":[
     {"data":{"name":"epts"},"mark":{"type":"circle","size":40,"color":"#2ea6d4","opacity":0.82},
      "encoding":{
       "x":{"field":"l1","type":"quantitative","scale":{"domain":[-0.1252,0.0843],"nice":false,"zero":false},"axis":{"title":"Loadings 1","values":[-0.1,-0.05,0,0.05],"labelExpr":"datum.value === 0 ? '0' : format(datum.value, '.2f')"}},
       "y":{"field":"l2","type":"quantitative","scale":{"domain":[-0.1444,0.1396],"nice":false,"zero":false},"axis":{"title":"Loadings 2","values":[-0.1,-0.05,0,0.05,0.1],"labelExpr":"datum.value === 0 ? '0' : format(datum.value, '.2f')"}}}},
     {"data":{"name":"earr"},"mark":{"type":"rule","color":"#000","strokeWidth":0.7},
      "encoding":{"x":{"field":"x1","type":"quantitative"},"y":{"field":"y1","type":"quantitative"},"x2":{"field":"x2"},"y2":{"field":"y2"}}},
     {"data":{"name":"elab"},"mark":{"type":"text","fontSize":6,"color":"#111","align":"center","baseline":"middle"},
      "encoding":{"x":{"field":"x","type":"quantitative"},"y":{"field":"y","type":"quantitative"},"text":{"field":"t"}}},
     {"data":{"values":[{"t":"Fasted","x":-0.1217,"y":0.1309}]},"mark":{"type":"text","fontSize":14.5,"align":"left","baseline":"middle","color":"#000"},
      "encoding":{"x":{"field":"x","type":"quantitative"},"y":{"field":"y","type":"quantitative"},"text":{"field":"t"}}},
     {"data":{"values":[{"t":"e","x":-0.1774,"y":0.1348}]},"mark":{"type":"text","fontSize":18,"fontWeight":"bold","align":"left","baseline":"alphabetic","color":"#000"},
      "encoding":{"x":{"field":"x","type":"quantitative"},"y":{"field":"y","type":"quantitative"},"text":{"field":"t"}}}
    ]
   }
  ],
  "spacing":102.7,
  "bounds":"flush",
  "resolve":{"scale":{"color":"independent","shape":"independent","size":"independent","strokeWidth":"independent"},"legend":{"color":"independent","shape":"independent","size":"independent","strokeWidth":"independent"}}
 }
]
}
